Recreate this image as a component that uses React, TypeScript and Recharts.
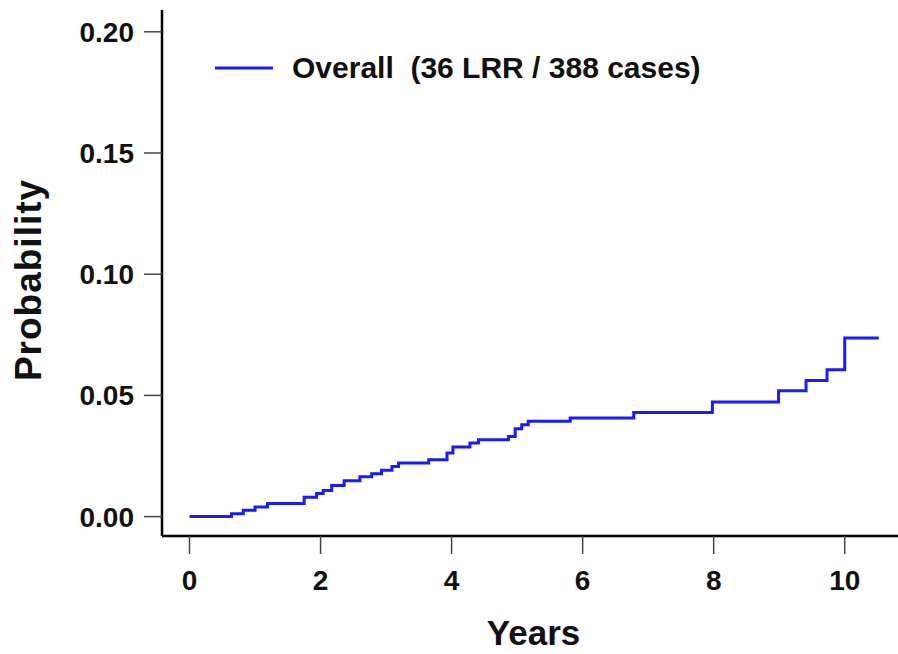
import React from 'react';
import { LineChart, Line, XAxis, YAxis, Legend } from 'recharts';

// cumulative incidence
const years = [
  0, 0.64, 0.82, 1.0, 1.19, 1.75, 1.94, 2.04, 2.17, 2.36, 2.6, 2.78, 2.93, 3.09, 3.19,
  3.65, 3.93, 4.02, 4.28, 4.41, 4.87, 4.97, 5.07, 5.17, 5.81, 6.78, 7.98, 8.99, 9.41,
  9.73, 10.0, 10.52,
];
const probability = [
  0, 0.0012, 0.0026, 0.004, 0.0054, 0.008, 0.0095, 0.0108, 0.0128, 0.0148, 0.0164,
  0.0177, 0.0191, 0.0207, 0.0221, 0.0235, 0.0262, 0.0287, 0.0304, 0.0317, 0.0331,
  0.0362, 0.0379, 0.0393, 0.0407, 0.043, 0.0473, 0.0519, 0.0561, 0.0606, 0.0737,
  0.0737,
];
const xTicks = [0, 2, 4, 6, 8, 10];
const yTicks = [0, 0.05, 0.1, 0.15, 0.2];
const seriesName = 'Overall  (36 LRR / 388 cases)';

const data = years.map((t, i) => ({ t, p: probability[i] }));

const FONT = '"Liberation Sans", Arial, Helvetica, sans-serif';
const BLUE = '#1a1aff';

function LegendBox() {
  return (
    <div style={{ display: 'flex', alignItems: 'center', height: 40, fontFamily: FONT }}>
      <svg width={58} height={4} style={{ display: 'block' }}>
        <line x1={0} y1={2} x2={58} y2={2} stroke={BLUE} strokeWidth={3} />
      </svg>
      <span
        style={{
          marginLeft: 19,
          fontSize: 30,
          fontWeight: 700,
          color: '#111',
          whiteSpace: 'pre',
          lineHeight: '40px',
        }}
      >
        {seriesName}
      </span>
    </div>
  );
}

export default function App() {
  const tickStyle = { fontSize: 28, fontWeight: 700, fill: '#111', fontFamily: FONT };
  return (
    <div
      style={{
        position: 'absolute',
        left: 0,
        top: 0,
        width: 898,
        height: 654,
        overflow: 'hidden',
        background: '#fff',
      }}
    >
      <LineChart
        width={905}
        height={654}
        data={data}
        margin={{ top: 10, right: 0, bottom: 0, left: 0 }}
      >
        <XAxis
          dataKey="t"
          type="number"
          domain={[-0.42, 10.92]}
          ticks={xTicks}
          allowDataOverflow
          height={118}
          tickSize={18}
          tickMargin={16}
          axisLine={{ stroke: '#000', strokeWidth: 2.5 }}
          tickLine={{ stroke: '#444', strokeWidth: 1.5 }}
          tick={tickStyle}
          label={{
            content: ({ viewBox }: any) => (
              <text
                x={viewBox.x + viewBox.width / 2}
                y={viewBox.y + viewBox.height - 9}
                textAnchor="middle"
                fontSize={35}
                fontWeight={700}
                fontFamily={FONT}
                fill="#111"
              >
                Years
              </text>
            ),
          }}
        />
        <YAxis
          type="number"
          domain={[-0.008, 0.209]}
          ticks={yTicks}
          allowDataOverflow
          width={162}
          tickSize={18}
          tickMargin={10}
          tickFormatter={(v: number) => v.toFixed(2)}
          axisLine={{ stroke: '#000', strokeWidth: 2.5 }}
          tickLine={{ stroke: '#444', strokeWidth: 1.5 }}
          tick={tickStyle}
          label={{
            content: ({ viewBox }: any) => {
              const cx = viewBox.x + 28;
              const cy = viewBox.y + viewBox.height / 2 + 7;
              return (
                <text
                  x={cx}
                  y={cy}
                  transform={`rotate(-90 ${cx} ${cy})`}
                  textAnchor="middle"
                  dominantBaseline="central"
                  fontSize={37}
                  fontWeight={700}
                  letterSpacing={1}
                  fontFamily={FONT}
                  fill="#111"
                >
                  Probability
                </text>
              );
            },
          }}
        />
        <Legend
          layout="horizontal"
          verticalAlign="middle"
          align="center"
          wrapperStyle={{ top: 48, left: 215, width: 'auto' }}
          content={() => <LegendBox />}
        />
        <Line
          type="stepAfter"
          dataKey="p"
          name={seriesName}
          stroke={BLUE}
          strokeWidth={3}
          dot={false}
          activeDot={false}
          isAnimationActive={false}
        />
      </LineChart>
    </div>
  );
}
